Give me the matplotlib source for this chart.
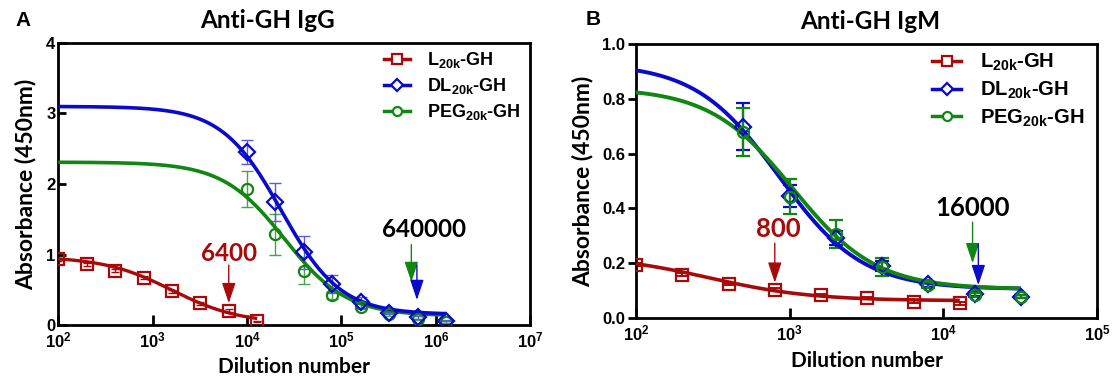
import numpy as np
import matplotlib
matplotlib.use("Agg")
import matplotlib.pyplot as plt
from matplotlib.lines import Line2D
from matplotlib.ticker import FixedLocator, NullLocator, LogFormatterSciNotation
from matplotlib.font_manager import FontProperties

plt.rcParams['mathtext.fontset'] = 'custom'
plt.rcParams['mathtext.bf'] = 'Liberation Sans:bold'
plt.rcParams['mathtext.rm'] = 'Liberation Sans:bold'
plt.rcParams['mathtext.default'] = 'bf'

# ---------------- data: panel A (IgG) ----------------
dil_A_L = [100, 200, 400, 800, 1600, 3200, 6400, 12800]
abs_A_L = [0.93, 0.86, 0.77, 0.67, 0.48, 0.31, 0.20, 0.05]
err_A_L = [0.02, 0.02, 0.02, 0.02, 0.02, 0.02, 0.02, 0.01]

dil_A_P = [1e4, 2e4, 4e4, 8e4, 1.6e5, 3.2e5, 6.4e5, 1.28e6]
abs_A_DL = [2.46, 1.74, 1.03, 0.58, 0.32, 0.17, 0.11, 0.06]
err_A_DL = [0.17, 0.27, 0.23, 0.13, 0.08, 0.02, 0.02, 0.01]
abs_A_PEG = [1.93, 1.29, 0.77, 0.42, 0.26, 0.15, 0.08, 0.04]
err_A_PEG = [0.25, 0.29, 0.19, 0.05, 0.04, 0.02, 0.01, 0.01]

# 4PL fit parameters (top, bottom, EC50, hill)
fit_A_L = [0.97, 0.02, 1600, 1.2]
fit_A_DL = [3.10, 0.15, 2.3e4, 1.38]
fit_A_PEG = [2.31, 0.13, 2.5e4, 1.32]

# ---------------- data: panel B (IgM) ----------------
dil_B_L = [100, 200, 400, 800, 1600, 3200, 6400, 12800]
abs_B_L = [0.195, 0.158, 0.124, 0.104, 0.083, 0.072, 0.060, 0.053]
err_B_L = [0.005, 0.005, 0.005, 0.005, 0.004, 0.004, 0.004, 0.004]

dil_B_P = [500, 1000, 2000, 4000, 8000, 16000, 32000]
abs_B_DL = [0.698, 0.445, 0.291, 0.190, 0.123, 0.088, 0.078]
err_B_DL = [0.085, 0.040, 0.025, 0.018, 0.010, 0.006, 0.005]
abs_B_PEG = [0.680, 0.443, 0.307, 0.187, 0.120, 0.084, 0.078]
err_B_PEG = [0.087, 0.063, 0.050, 0.033, 0.010, 0.006, 0.005]

fit_B_L = [0.23, 0.063, 300, 1.3]
fit_B_DL = [0.93, 0.105, 850, 1.6]
fit_B_PEG = [0.84, 0.105, 1050, 1.6]

series_labels = [r'L$_{20k}$-GH', r'DL$_{20k}$-GH', r'PEG$_{20k}$-GH']

# titer annotations
titer_A = ['6400', '640000']
titer_B = ['800', '16000']

RED = '#A80A0A'
BLUE = '#0A0ACB'
GREEN = '#128612'
BLUE_ERR = '#5B5BD6'
GREEN_ERR = '#4DA04D'

TICKFONT = dict(family='Liberation Sans', weight='bold', size=12)


def fourpl(x, p):
    top, bottom, ec50, hill = p
    return bottom + (top - bottom) / (1.0 + (x / ec50) ** hill)


def curve(ax, x0, x1, p, color, lw):
    xs = np.logspace(np.log10(x0), np.log10(x1), 400)
    ax.plot(xs, fourpl(xs, p), color=color, lw=lw, zorder=3, solid_capstyle='butt')


def points(ax, x, y, e, color, ecolor, marker, ms, elw, cap):
    ax.errorbar(x, y, yerr=e, fmt='none', ecolor=ecolor, elinewidth=elw,
                capsize=cap, capthick=elw, zorder=2)
    ax.plot(x, y, linestyle='none', marker=marker, ms=ms, mfc='none',
            mec=color, mew=1.6, zorder=4)


def arrow(ax, x, y0, y1, color):
    ax.annotate('', xy=(x, y1), xytext=(x, y0),
                arrowprops=dict(arrowstyle='-|>,head_length=1.25,head_width=0.42',
                                color=color, lw=1.0, shrinkA=0, shrinkB=0,
                                mutation_scale=10), zorder=5)


def style_axes(ax, xmin, xmax, yticks, ylim, yfmt, ydir):
    ax.set_xscale('log')
    ax.set_xlim(xmin, xmax)
    ax.set_ylim(*ylim)
    ax.xaxis.set_major_locator(FixedLocator([10.0 ** k for k in range(int(np.log10(xmin)), int(np.log10(xmax)) + 1)]))
    ax.xaxis.set_minor_locator(NullLocator())
    ax.xaxis.set_major_formatter(LogFormatterSciNotation())
    ax.set_yticks(yticks)
    ax.set_yticklabels([yfmt.format(v) for v in yticks])
    for s in ax.spines.values():
        s.set_linewidth(2.0)
    ax.tick_params(axis='x', direction='in', length=7, width=2, pad=4)
    ax.tick_params(axis='y', direction=ydir, length=6, width=2, pad=2)
    for lab in ax.get_xticklabels() + ax.get_yticklabels():
        lab.set_fontproperties(FontProperties(**TICKFONT))
    ax.set_xlabel('Dilution number', family='Lato', weight='bold', size=15)
    ax.set_ylabel('Absorbance (450nm)', family='Lato', weight='bold', size=16.5)


def legend(ax, anchor, fs, spacing):
    handles = [
        Line2D([], [], color=RED, lw=2.5, marker='s', ms=7, mfc='white', mec=RED, mew=1.6),
        Line2D([], [], color=BLUE, lw=2.5, marker='D', ms=6.5, mfc='white', mec=BLUE, mew=1.6),
        Line2D([], [], color=GREEN, lw=2.5, marker='o', ms=6.5, mfc='white', mec=GREEN, mew=1.6),
    ]
    ax.legend(handles, series_labels, loc='upper left', bbox_to_anchor=anchor,
              frameon=False, handlelength=1.45, handletextpad=0.9,
              labelspacing=spacing, borderaxespad=0,
              prop=dict(family='Liberation Sans', weight='bold', size=fs))


fig = plt.figure(figsize=(11.18, 3.87), dpi=100)

# ---------------- Panel A ----------------
axA = fig.add_axes([0.0521, 0.1602, 0.4222, 0.7287])
curve(axA, 100, 12800, fit_A_L, RED, 2.4)
curve(axA, 100, 1.28e6, fit_A_PEG, GREEN, 2.6)
curve(axA, 100, 1.28e6, fit_A_DL, BLUE, 2.6)
points(axA, dil_A_L, abs_A_L, err_A_L, RED, RED, 's', 8, 1.0, 3)
points(axA, dil_A_P, abs_A_PEG, err_A_PEG, GREEN, GREEN_ERR, 'o', 8, 1.0, 4)
points(axA, dil_A_P, abs_A_DL, err_A_DL, BLUE, BLUE_ERR, 'D', 8, 1.0, 4)
style_axes(axA, 1e2, 1e7, [0, 1, 2, 3, 4], (0, 4), '{:g}', 'in')
axA.xaxis.set_label_coords(0.5, -0.115)
axA.yaxis.set_label_coords(-0.047, 0.5)
legend(axA, (0.675, 1.0), 13, 0.33)

arrow(axA, 6400, 0.85, 0.31, RED)
arrow(axA, 5.5e5, 1.14, 0.61, GREEN)
arrow(axA, 6.3e5, 0.85, 0.355, BLUE)
axA.text(6400, 1.02, titer_A[0], color=RED, ha='center', va='center',
         family='Lato', weight='bold', size=17.5)
axA.text(7.4e5, 1.35, titer_A[1], color='black', ha='center', va='center',
         family='Lato', weight='bold', size=17.5)

fig.text(0.239, 0.948, 'Anti-GH IgG', ha='center', va='center', family='Lato', weight='bold', size=17.5)
fig.text(0.021, 0.948, 'A', ha='center', va='center', family='Liberation Sans', weight='bold', size=15)

# ---------------- Panel B ----------------
axB = fig.add_axes([0.5689, 0.1783, 0.4123, 0.708])
curve(axB, 100, 12800, fit_B_L, RED, 2.6)
curve(axB, 100, 32000, fit_B_DL, BLUE, 2.8)
curve(axB, 100, 32000, fit_B_PEG, GREEN, 2.8)
points(axB, dil_B_L, abs_B_L, err_B_L, RED, RED, 's', 8.5, 1.4, 4)
points(axB, dil_B_P, abs_B_DL, err_B_DL, BLUE, BLUE, 'D', 8, 1.6, 5)
points(axB, dil_B_P, abs_B_PEG, err_B_PEG, GREEN, GREEN, 'o', 8, 1.6, 5)
style_axes(axB, 1e2, 1e5, [0.0, 0.2, 0.4, 0.6, 0.8, 1.0], (0, 1.0), '{:.1f}', 'out')
axB.xaxis.set_label_coords(0.5, -0.12)
axB.yaxis.set_label_coords(-0.092, 0.5)
legend(axB, (0.625, 1.0), 14.5, 0.32)

arrow(axB, 800, 0.273, 0.129, RED)
arrow(axB, 15500, 0.35, 0.20, GREEN)
arrow(axB, 16900, 0.27, 0.12, BLUE)
axB.text(840, 0.324, titer_B[0], color=RED, ha='center', va='center',
         family='Lato', weight='bold', size=18.5)
axB.text(15500, 0.40, titer_B[1], color='black', ha='center', va='center',
         family='Lato', weight='bold', size=18.5)

fig.text(0.778, 0.945, 'Anti-GH IgM', ha='center', va='center', family='Lato', weight='bold', size=17.5)
fig.text(0.531, 0.95, 'B', ha='center', va='center', family='Liberation Sans', weight='bold', size=15)

fig.savefig('out.png', dpi=100)
